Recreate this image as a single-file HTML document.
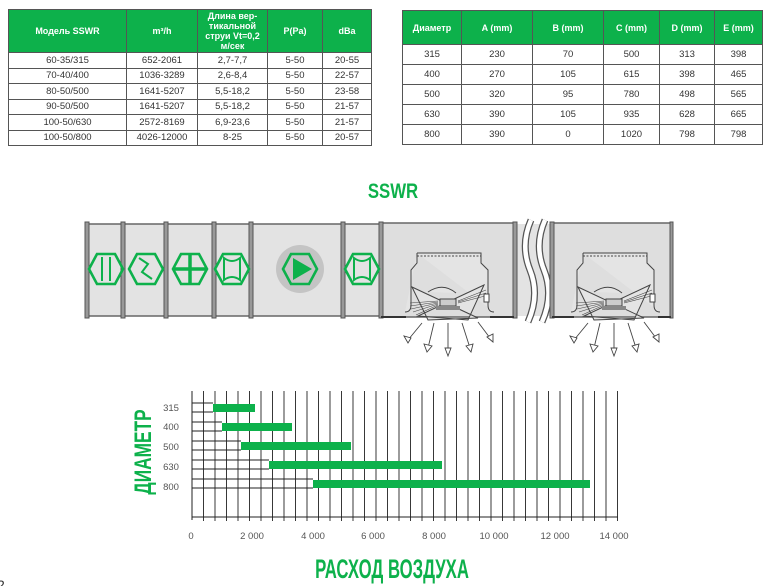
<!DOCTYPE html>
<html><head><meta charset="utf-8"><style>
body{margin:0;width:771px;height:586px;background:#fff;position:relative;overflow:hidden;font-family:"Liberation Sans","DejaVu Sans",sans-serif;}
table{position:absolute;border-collapse:collapse;font-size:9.5px;color:#333;}
td,th{border:1.3px solid #555;text-align:center;padding:0;}
th{background:#0db14b;color:#fff;font-weight:bold;font-size:9px;line-height:10px;}
</style></head><body>
<table style="left:8px;top:9px;width:364px">
<tr style="height:43px"><th style="width:117px">Модель SSWR</th><th style="width:70px">m³/h</th><th style="width:69px">Длина вер-<br>тикальной<br>струи Vt=0,2<br>м/сек</th><th style="width:54px">P(Pa)</th><th>dBa</th></tr>
<tr style="height:15.5px"><td>60-35/315</td><td>652-2061</td><td>2,7-7,7</td><td>5-50</td><td>20-55</td></tr>
<tr style="height:15.5px"><td>70-40/400</td><td>1036-3289</td><td>2,6-8,4</td><td>5-50</td><td>22-57</td></tr>
<tr style="height:15.5px"><td>80-50/500</td><td>1641-5207</td><td>5,5-18,2</td><td>5-50</td><td>23-58</td></tr>
<tr style="height:15.5px"><td>90-50/500</td><td>1641-5207</td><td>5,5-18,2</td><td>5-50</td><td>21-57</td></tr>
<tr style="height:15.5px"><td>100-50/630</td><td>2572-8169</td><td>6,9-23,6</td><td>5-50</td><td>21-57</td></tr>
<tr style="height:15.5px"><td>100-50/800</td><td>4026-12000</td><td>8-25</td><td>5-50</td><td>20-57</td></tr>
</table>
<table style="left:402px;top:10px;width:361px">
<tr style="height:34px"><th style="width:58px">Диаметр</th><th style="width:70px">A (mm)</th><th style="width:70px">B (mm)</th><th style="width:55px">C (mm)</th><th style="width:54px">D (mm)</th><th>E (mm)</th></tr>
<tr style="height:20px"><td>315</td><td>230</td><td>70</td><td>500</td><td>313</td><td>398</td></tr>
<tr style="height:20px"><td>400</td><td>270</td><td>105</td><td>615</td><td>398</td><td>465</td></tr>
<tr style="height:20px"><td>500</td><td>320</td><td>95</td><td>780</td><td>498</td><td>565</td></tr>
<tr style="height:20px"><td>630</td><td>390</td><td>105</td><td>935</td><td>628</td><td>665</td></tr>
<tr style="height:20px"><td>800</td><td>390</td><td>0</td><td>1020</td><td>798</td><td>798</td></tr>
</table>
<svg width="771" height="586" style="position:absolute;left:0;top:0" xmlns="http://www.w3.org/2000/svg">
<defs>
<g id="dif" fill="none" stroke="#444" stroke-width="1">
<path d="M-31,253 H33 V263 L40,270 V305 Q40,312 46,312 M-31,253 V263 L-37,270 V305 Q-37,312 -43,312" fill="#e4e4e4"/>
<path d="M-31,256 H33" stroke-dasharray="2,1.5"/>
<path d="M-36,287 L30,318 L-20,320 Z M36,285 L-30,316 L20,320 Z M-20,292 Q-5,282 8,293" fill="#e4e4e4"/>
<path d="M-38,303 L-10,301 M-38,306 L-10,302 M-37,309 L-10,303 M-35,312 L-10,304 M-32,315 L-10,305 M38,290 L10,301 M38,293 L10,302 M37,296 L10,303" stroke-width="0.6"/>
<rect x="-8" y="299" width="16" height="7" fill="#ccc"/>
<rect x="-12" y="306" width="24" height="4" fill="#888" stroke="none"/>
<rect x="36" y="294" width="5" height="8" fill="#fff"/>
<g stroke-width="0.9"><path d="M-26,323 L-40,340 M-14,323 L-20,348 M0,323 V352 M14,323 L22,348 M30,322 L42,338"/>
<path d="M-44,336 L-40,343 L-37,338Z M-24,344 L-21,352 L-16,346Z M-3,348 L0,356 L3,348Z M18,346 L23,352 L25,344Z M39,337 L45,342 L45,334Z" fill="#fff"/></g>
</g>
</defs>
<!-- duct -->
<rect x="87" y="224" width="294" height="92" fill="#e3e3e3" stroke="#666" stroke-width="1.5"/>
<rect x="381" y="223" width="134" height="94" fill="#dedede" stroke="#666" stroke-width="1.5"/>
<rect x="552" y="223" width="120" height="94" fill="#dedede" stroke="#666" stroke-width="1.5"/>
<rect x="515" y="224" width="37" height="92" fill="#e3e3e3" stroke="none"/>
<path d="M531,220 Q520,245 530,270 Q540,295 528,322" stroke="#555" stroke-width="7" fill="none"/>
<path d="M531,220 Q520,245 530,270 Q540,295 528,322" stroke="#fff" stroke-width="4.5" fill="none"/>
<path d="M545,220 Q534,245 544,270 Q554,295 542,322" stroke="#555" stroke-width="7" fill="none"/>
<path d="M545,220 Q534,245 544,270 Q554,295 542,322" stroke="#fff" stroke-width="4.5" fill="none"/>
<g fill="#999" stroke="#555" stroke-width="1">
<rect x="85" y="222" width="4" height="96"/><rect x="121" y="222" width="4" height="96"/><rect x="164" y="222" width="4" height="96"/><rect x="212" y="222" width="4" height="96"/><rect x="249" y="222" width="4" height="96"/><rect x="341" y="222" width="4" height="96"/><rect x="379" y="222" width="4" height="96"/><rect x="513" y="222" width="4" height="96"/><rect x="550" y="222" width="4" height="96"/><rect x="670" y="222" width="3" height="96"/>
</g>
<rect x="381" y="316" width="25" height="2" fill="#333"/><rect x="490" y="316" width="24" height="2" fill="#333"/>
<rect x="552" y="316" width="22" height="2" fill="#333"/><rect x="658" y="316" width="13" height="2" fill="#333"/>
<use href="#dif" transform="translate(448,0)"/>
<use href="#dif" transform="translate(614,0)"/>
<!-- icons -->
<g fill="none" stroke="#0db14b" stroke-width="2.6">
<path d="M89,269 L97,254 H115 L123,269 L115,284 H97 Z"/><path d="M102,257 V281 M110,257 V281" stroke-width="2"/>
<path d="M129,269 L137,254 H155 L163,269 L155,284 H137 Z"/><path d="M139,258 L148,264 L142,272 L152,279" stroke-width="2"/>
<path d="M173,269 L181,254 H199 L207,269 L199,284 H181 Z"/><path d="M190,254 V284 M173,269 H207" stroke-width="3.5"/>
<path d="M215,269 L223,254 H241 L249,269 L241,284 H223 Z"/><path d="M224,258 Q232,264 240,258 V280 Q232,274 224,280 Z" stroke-width="2"/>
<path d="M345,269 L353,254 H371 L379,269 L371,284 H353 Z"/><path d="M354,258 Q362,264 370,258 V280 Q362,274 354,280 Z" stroke-width="2"/>
</g>
<circle cx="300" cy="269" r="24" fill="#c4c4c4"/>
<path d="M283,269 L291,254 H309 L317,269 L309,284 H291 Z" fill="none" stroke="#0db14b" stroke-width="2.6"/>
<path d="M293,258 L312,269 L293,280 Z" fill="#0db14b"/>
<text x="393" y="198" text-anchor="middle" font-family="Liberation Sans" font-weight="bold" font-size="21" fill="#0db14b" transform="translate(393,0) scale(0.8,1) translate(-393,0)">SSWR</text>
<!-- chart -->
<g stroke="#222" stroke-width="1">
<line x1="192" y1="391" x2="192" y2="520"/>
<line x1="192" y1="517" x2="618" y2="517"/>
</g>
<g id="vl" stroke="#222" stroke-width="0.9"></g>
<g fill="#0db14b">
<rect x="213" y="404" width="42" height="8"/><rect x="222" y="423" width="70" height="8"/><rect x="241" y="442" width="110" height="8"/><rect x="269" y="461" width="173" height="8"/><rect x="313" y="480" width="277" height="8"/>
</g>
<g font-size="9.5" fill="#555" text-anchor="middle">
<text x="171" y="411">315</text><text x="171" y="430">400</text><text x="171" y="450">500</text><text x="171" y="470">630</text><text x="171" y="490">800</text>
<text x="191" y="539">0</text><text x="252" y="539">2 000</text><text x="313" y="539">4 000</text><text x="373" y="539">6 000</text><text x="434" y="539">8 000</text><text x="494" y="539">10 000</text><text x="555" y="539">12 000</text><text x="614" y="539">14 000</text>
</g>
<text transform="translate(151,452) rotate(-90) scale(0.72,1)" text-anchor="middle" font-weight="bold" font-size="24" fill="#0db14b">ДИАМЕТР</text>
<text transform="translate(392,578) scale(0.62,1)" text-anchor="middle" font-weight="bold" font-size="27" fill="#0db14b">РАСХОД ВОЗДУХА</text>
<text x="-3" y="590" font-size="14" fill="#333">2</text>
</svg>
<script>
var g=document.getElementById('vl'),s='';
for(var i=1;i<=37;i++){var x=192+i*11.5;if(x>618)break;s+='<line x1="'+x+'" y1="391" x2="'+x+'" y2="521"/>';}
var rows=[[403,412,213],[422,431,222],[441,450,241],[460,469,269],[479,488,313]];
rows.forEach(function(r){s+='<line x1="192" y1="'+r[0]+'" x2="'+r[2]+'" y2="'+r[0]+'"/><line x1="192" y1="'+r[1]+'" x2="'+r[2]+'" y2="'+r[1]+'"/>';});
g.innerHTML=s;
</script>
</body></html>
